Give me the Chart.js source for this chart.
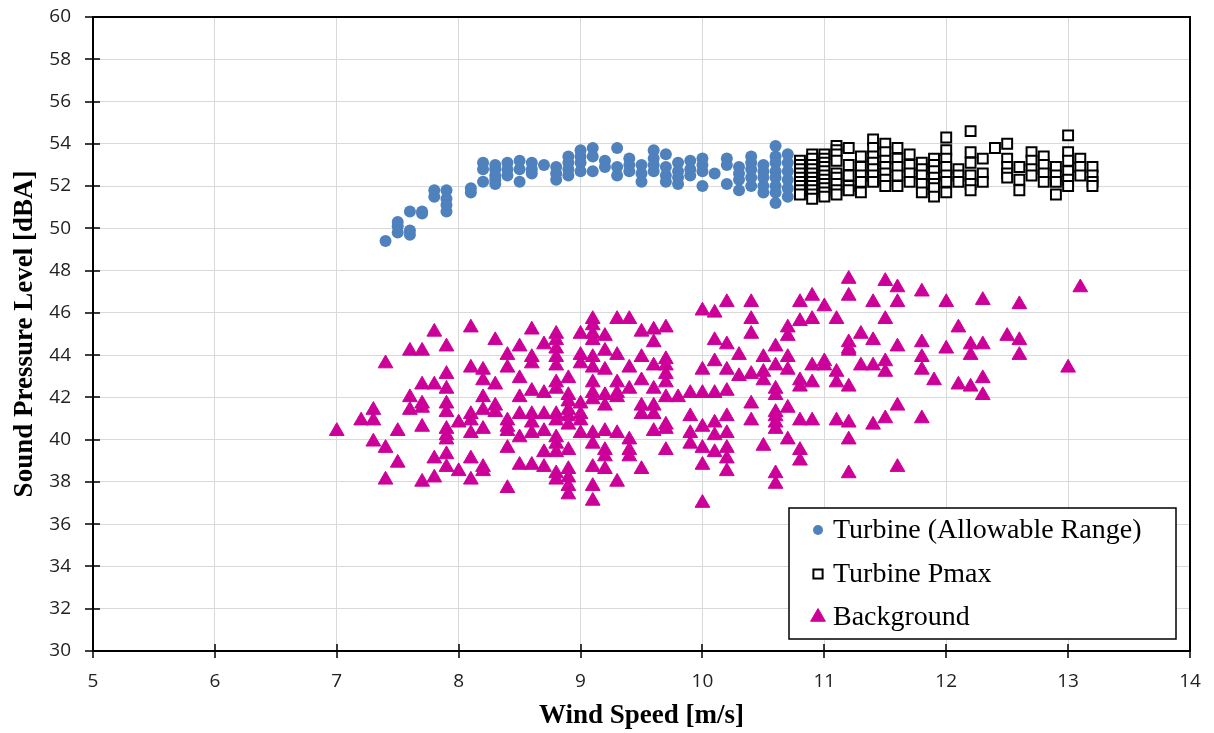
<!DOCTYPE html>
<html>
<head>
<meta charset="utf-8">
<script src="https://cdn.jsdelivr.net/npm/chart.js@4.4.1/dist/chart.umd.min.js"></script>
<style>
  html, body { margin: 0; padding: 0; background: #fff; }
  #wrap { width: 1214px; height: 733px; }
</style>
</head>
<body>
<div id="wrap"><canvas id="spl-chart" width="1214" height="733"></canvas></div>
<script>
// wind speed bins [m/s] and the levels [dBA] measured in each bin
var turbineWind = [7.4, 7.5, 7.6, 7.7, 7.8, 7.9, 8.1, 8.2, 8.3, 8.4, 8.5, 8.6, 8.7, 8.8, 8.9,
  9.0, 9.1, 9.2, 9.3, 9.4, 9.5, 9.6, 9.7, 9.8, 9.9, 10.0, 10.1, 10.2, 10.3, 10.4, 10.5, 10.6, 10.7];
var turbineSpl = [
  [49.4], [50.3, 50.1, 49.8], [50.8, 49.9, 49.7], [50.8, 50.7], [51.8, 51.5],
  [51.8, 51.4, 51.1, 50.8], [51.9, 51.7], [53.1, 52.8, 52.2], [53.0, 52.8, 52.5, 52.3, 52.1],
  [53.1, 52.8, 52.5], [53.2, 52.8, 52.2], [53.1, 52.8, 52.6], [53.0], [52.9, 52.6, 52.3],
  [53.4, 53.1, 52.8, 52.5], [53.7, 53.4, 53.1, 52.7], [53.8, 53.4, 52.7], [53.2, 52.9],
  [53.8, 52.9, 52.5], [53.3, 53.0, 52.7], [53.0, 52.6, 52.2], [53.7, 53.3, 53.0, 52.7],
  [53.5, 52.9, 52.5, 52.2], [53.1, 52.7, 52.4, 52.1], [53.2, 52.8, 52.5], [53.3, 53.0, 52.7, 52.0],
  [52.6], [53.3, 53.0, 52.1], [52.9, 52.6, 52.3, 51.8], [53.4, 53.1, 52.8, 52.4, 52.0],
  [53.0, 52.7, 52.4, 52.0, 51.7], [53.9, 53.4, 53.1, 52.7, 52.4, 52.0, 51.7, 51.2],
  [53.5, 53.1, 52.7, 52.3, 51.9, 51.5]
];

var pmaxWind = [10.8, 10.9, 11.0, 11.1, 11.2, 11.3, 11.4, 11.5, 11.6, 11.7, 11.8, 11.9, 12.0,
  12.1, 12.2, 12.3, 12.4, 12.5, 12.6, 12.7, 12.8, 12.9, 13.0, 13.1, 13.2];
var pmaxSpl = [
  [53.2, 53.0, 52.8, 52.6, 52.4, 52.2, 52.0, 51.8, 51.6],
  [53.5, 53.3, 53.0, 52.8, 52.6, 52.4, 52.2, 52.0, 51.8, 51.6, 51.4],
  [53.5, 53.3, 53.1, 52.9, 52.7, 52.5, 52.3, 52.1, 51.9, 51.7, 51.5],
  [53.9, 53.7, 53.5, 53.2, 52.6, 52.4, 52.1, 51.8, 51.6],
  [53.8, 53.0, 52.5, 52.0, 51.8], [53.4, 52.9, 52.5, 52.2, 51.7],
  [54.2, 53.8, 53.4, 53.1, 52.8, 52.5, 52.2], [54.0, 53.6, 53.2, 52.9, 52.6, 52.3, 52.0],
  [53.8, 53.3, 52.9, 52.5, 52.0], [53.5, 53.0, 52.6, 52.2], [53.1, 52.8, 52.5, 52.1, 51.7],
  [53.3, 53.0, 52.7, 52.4, 52.1, 51.9, 51.5], [54.3, 53.7, 53.3, 52.9, 52.5, 52.2, 51.7],
  [52.8, 52.5, 52.2], [54.6, 53.6, 53.1, 52.5, 52.1, 51.8], [53.3, 52.6, 52.2], [53.8],
  [54.0, 53.3, 52.9, 52.6, 52.4], [52.9, 52.3, 51.8], [53.6, 53.2, 52.8, 52.5],
  [53.4, 53.0, 52.6, 52.2], [52.9, 52.5, 52.2, 51.6], [54.4, 53.6, 53.2, 52.7, 52.3, 52.0],
  [53.3, 52.9, 52.5], [52.9, 52.5, 52.2, 52.0]
];

var backgroundWind = [7.0, 7.2, 7.3, 7.4, 7.5, 7.6, 7.7, 7.8, 7.9, 8.0, 8.1, 8.2, 8.3, 8.4, 8.5,
  8.6, 8.7, 8.8, 8.9, 9.0, 9.1, 9.2, 9.3, 9.4, 9.5, 9.6, 9.7, 9.8, 9.9, 10.0, 10.1, 10.2, 10.3,
  10.4, 10.5, 10.6, 10.7, 10.8, 10.9, 11.0, 11.1, 11.2, 11.3, 11.4, 11.5, 11.6, 11.8, 11.9, 12.0,
  12.1, 12.2, 12.3, 12.5, 12.6, 13.0, 13.1];
var backgroundSpl = [
  [40.4], [40.9], [41.4, 40.9, 39.9], [43.6, 39.6, 38.1], [40.4, 38.9], [44.2, 42.0, 41.4],
  [44.2, 42.6, 41.7, 41.5, 40.6, 38.0], [45.1, 42.6, 39.1, 38.2],
  [44.4, 43.1, 42.4, 41.7, 41.3, 40.5, 40.2, 40.0, 39.3, 38.7], [40.8, 38.5],
  [45.3, 43.4, 41.2, 40.9, 40.3, 39.1, 38.1], [43.3, 42.8, 42.0, 41.4, 40.5, 38.7, 38.5],
  [44.7, 42.6, 41.6, 41.3], [44.0, 43.4, 40.9, 40.6, 40.4, 39.6, 37.7],
  [44.4, 42.9, 42.0, 41.2, 40.1, 38.8], [45.2, 43.9, 43.6, 42.3, 41.2, 40.8, 40.3, 38.8],
  [44.5, 42.2, 41.2, 40.4, 39.4, 38.7],
  [45.0, 44.7, 44.3, 43.9, 43.5, 42.7, 42.4, 41.2, 40.9, 40.1, 39.8, 39.4, 38.4, 38.1],
  [42.9, 42.1, 41.8, 41.4, 41.1, 40.7, 39.5, 38.6, 38.2, 37.8, 37.4],
  [45.0, 44.0, 43.6, 41.7, 41.2, 40.9, 40.3],
  [45.7, 45.4, 45.0, 44.7, 43.9, 43.4, 42.7, 42.2, 41.9, 40.3, 39.8, 38.7, 37.8, 37.1],
  [44.9, 44.2, 43.3, 42.1, 41.6, 40.4, 39.5, 39.2, 38.6], [45.7, 44.0, 42.7, 42.2, 42.0, 40.3, 38.0],
  [45.7, 43.4, 42.4, 40.0, 39.5, 39.2], [45.1, 43.9, 42.8, 41.6, 41.2, 38.6],
  [45.2, 44.6, 43.5, 42.4, 41.6, 41.2, 40.4], [45.3, 43.8, 43.5, 43.1, 42.7, 42.0, 40.7, 40.5, 39.5],
  [42.0], [42.2, 41.1, 40.3, 39.8], [46.1, 43.3, 42.2, 40.6, 39.6, 38.8, 37.0],
  [46.0, 44.7, 43.7, 42.2, 40.8, 40.2, 39.4], [46.5, 44.5, 43.3, 42.3, 41.1, 40.3, 39.6, 39.1, 38.5],
  [44.0, 43.0], [46.5, 45.7, 45.0, 43.1, 41.7, 40.9], [43.9, 43.2, 42.8, 39.7],
  [44.4, 43.5, 42.4, 42.1, 41.3, 41.1, 40.8, 40.5, 38.4, 37.9], [45.3, 44.9, 43.9, 43.3, 41.5, 40.0],
  [46.5, 45.6, 42.8, 42.5, 40.9, 39.5, 39.0], [46.8, 45.7, 43.5, 42.7, 40.9], [46.3, 43.7, 43.5],
  [45.7, 43.2, 42.7, 40.9], [47.6, 46.8, 44.6, 44.3, 44.2, 42.5, 40.8, 40.0, 38.4], [45.0, 43.5],
  [46.5, 44.7, 43.5, 40.7], [47.5, 45.7, 43.7, 43.2, 41.0], [47.2, 46.5, 44.4, 41.6, 38.7],
  [47.0, 44.6, 43.9, 43.3, 41.0], [42.8], [46.5, 44.3], [45.3, 42.6], [44.5, 44.0, 42.5],
  [46.6, 44.5, 42.9, 42.1], [44.9], [46.4, 44.7, 44.0], [43.4], [47.2]
];

var seriesNames = ['Turbine (Allowable Range)', 'Turbine Pmax', 'Background'];

function toPoints(winds, levels) {
  var pts = [];
  winds.forEach(function (w, i) {
    levels[i].forEach(function (v) {
      pts.push({ x: w, y: v });
    });
  });
  return pts;
}

var serifFont = '"Liberation Serif", "Times New Roman", serif';
var tickFont = { family: '"Open Sans", sans-serif', size: 19 };

// black frame round the plot area, with ticks that cross the axis lines
var frame = {
  id: 'frame',
  afterDatasetsDraw: function (chart) {
    var ctx = chart.ctx;
    var a = chart.chartArea;
    var xs = chart.scales.x, ys = chart.scales.y;
    ctx.save();
    ctx.strokeStyle = '#000';
    ctx.lineWidth = 2;
    ctx.strokeRect(a.left, a.top, a.right - a.left, a.bottom - a.top);
    ctx.beginPath();
    ys.ticks.forEach(function (t) {
      var py = Math.round(ys.getPixelForValue(t.value));
      ctx.moveTo(a.left - 8, py);
      ctx.lineTo(a.left + 7, py);
    });
    xs.ticks.forEach(function (t) {
      var px = Math.round(xs.getPixelForValue(t.value));
      ctx.moveTo(px, a.bottom - 7);
      ctx.lineTo(px, a.bottom + 7);
    });
    ctx.lineWidth = 1.5;
    ctx.stroke();
    ctx.restore();
  }
};

// boxed legend in the lower right corner of the plot
var boxLegend = {
  id: 'boxLegend',
  afterDraw: function (chart) {
    var ctx = chart.ctx;
    var a = chart.chartArea;
    var left = a.right - 401, top = a.bottom - 143;
    var w = 387, h = 131;
    ctx.save();
    ctx.fillStyle = '#fff';
    ctx.fillRect(left, top, w, h);
    ctx.strokeStyle = '#000';
    ctx.lineWidth = 1.5;
    ctx.strokeRect(left, top, w, h);
    var rows = [22, 66, 109];
    chart.data.datasets.forEach(function (ds, i) {
      var y = top + rows[i];
      ctx.fillStyle = ds.backgroundColor;
      ctx.strokeStyle = ds.borderColor;
      ctx.lineWidth = ds.borderWidth;
      Chart.helpers.drawPoint(ctx, {
        pointStyle: ds.pointStyle,
        radius: ds.legendRadius,
        rotation: 0,
        borderWidth: ds.borderWidth
      }, left + 29, y);
      ctx.fillStyle = '#000';
      ctx.font = '28px ' + serifFont;
      ctx.textBaseline = 'middle';
      ctx.textAlign = 'left';
      ctx.fillText(ds.label, left + 44, y + 1);
    });
    ctx.restore();
  }
};

var ctx = document.getElementById('spl-chart').getContext('2d');

var chart = new Chart(ctx, {
  type: 'scatter',
  data: {
    datasets: [
      {
        label: seriesNames[0],
        data: toPoints(turbineWind, turbineSpl),
        pointStyle: 'circle',
        pointRadius: 6,
        legendRadius: 5,
        backgroundColor: '#4f81bd',
        borderColor: '#4f81bd',
        borderWidth: 0,
        order: 3
      },
      {
        label: seriesNames[1],
        data: toPoints(pmaxWind, pmaxSpl),
        pointStyle: 'rect',
        pointRadius: 7,
        legendRadius: 6.5,
        backgroundColor: '#fff',
        borderColor: '#000',
        borderWidth: 2,
        order: 2
      },
      {
        label: seriesNames[2],
        data: toPoints(backgroundWind, backgroundSpl),
        pointStyle: 'triangle',
        pointRadius: 8.5,
        legendRadius: 8.5,
        backgroundColor: '#cc0099',
        borderColor: '#cc0099',
        borderWidth: 1,
        order: 1
      }
    ]
  },
  options: {
    responsive: false,
    animation: false,
    events: [],
    layout: { padding: { left: 0, right: 24, top: 17, bottom: 0 } },
    plugins: {
      legend: { display: false },
      tooltip: { enabled: false }
    },
    scales: {
      x: {
        type: 'linear',
        min: 5,
        max: 14,
        afterFit: function (scale) {
          scale.height = 82;
          scale.paddingLeft = 0;
          scale.paddingRight = 0;
        },
        ticks: {
          stepSize: 1,
          padding: 19,
          color: '#222',
          font: tickFont
        },
        grid: { color: '#d9d9d9', lineWidth: 1, drawTicks: false },
        border: { display: false },
        title: {
          display: true,
          text: 'Wind Speed [m/s]',
          color: '#000',
          padding: { top: 0, bottom: 1 },
          font: { family: serifFont, size: 27, weight: 'bold' }
        }
      },
      y: {
        type: 'linear',
        min: 30,
        max: 60,
        afterFit: function (scale) {
          scale.width = 93;
          // keep the plot top at the layout padding, not pushed down by the label
          scale.paddingTop = 0;
          scale.paddingBottom = 0;
        },
        ticks: {
          stepSize: 2,
          padding: 22,
          color: '#222',
          font: tickFont
        },
        grid: { color: '#d9d9d9', lineWidth: 1, drawTicks: false },
        border: { display: false },
        title: {
          display: true,
          text: 'Sound Pressure Level [dBA]',
          color: '#000',
          padding: { top: 9, bottom: 0 },
          font: { family: serifFont, size: 27, weight: 'bold' }
        }
      }
    }
  },
  plugins: [frame, boxLegend]
});
</script>
</body>
</html>
